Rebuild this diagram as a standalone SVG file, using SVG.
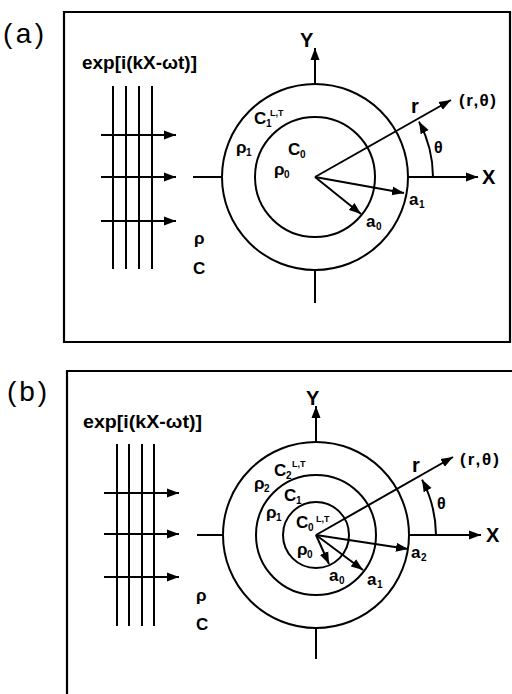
<svg xmlns="http://www.w3.org/2000/svg" width="512" height="694" viewBox="0 0 512 694">
<style>
.ln{stroke:#000;stroke-width:2;fill:none}
.fr{stroke:#000;stroke-width:2.2;fill:none}
.ar{stroke:#000;stroke-width:2;fill:none;marker-end:url(#ah)}
.t{font-family:"Liberation Sans",Arial,Helvetica,sans-serif;font-weight:bold;fill:#000}
.pl{font-family:"Liberation Sans",Arial,Helvetica,sans-serif;font-size:28px;fill:#000}
.ex{font-size:18px}
.lb{font-size:17px}
.ax{font-size:20px}
.sb{font-size:10px}
.sp{font-size:9px}
</style>
<defs>
<marker id="ah" markerUnits="userSpaceOnUse" markerWidth="14" markerHeight="10" refX="12" refY="5" orient="auto">
<path d="M0,0.5 L12,5 L0,9.5 z" fill="#000"/>
</marker>
</defs>
<rect width="512" height="694" fill="#fff"/>

<!-- Panel (a) -->
<g id="panel-a">
<text class="pl" x="3" y="43" textLength="41">(a)</text>
<path class="fr" d="M64,12 H510 V342 H64 Z"/>
<g id="a-wave">
<text class="t ex" x="82" y="69" textLength="115" lengthAdjust="spacingAndGlyphs">exp[i(kX-ωt)]</text>
<path class="ln" d="M113,86 V269 M126,86 V269 M139,86 V269 M152,86 V269"/>
<line class="ar" x1="101" y1="135" x2="176" y2="135"/>
<line class="ar" x1="101" y1="177" x2="176" y2="177"/>
<line class="ar" x1="101" y1="221" x2="176" y2="221"/>
<text class="t lb" x="194" y="244">ρ</text>
<text class="t lb" x="193" y="274">C</text>
</g>
<g id="a-scatterer">
<circle class="ln" cx="315" cy="177" r="93"/>
<circle class="ln" cx="315" cy="177" r="60"/>
<text class="t lb" x="254" y="124">C<tspan class="sb" x="266" y="127">1</tspan><tspan class="sp" x="270" y="116">L,T</tspan></text>
<text class="t lb" x="236" y="153">ρ<tspan class="sb" x="246" y="156">1</tspan></text>
<text class="t lb" x="288" y="155">C<tspan class="sb" x="300" y="158">0</tspan></text>
<text class="t lb" x="274" y="175">ρ<tspan class="sb" x="284" y="178">0</tspan></text>
</g>
<g id="a-axes">
<line class="ar" x1="315" y1="85" x2="315" y2="48"/>
<line class="ln" x1="315" y1="269" x2="315" y2="303"/>
<line class="ln" x1="193" y1="177" x2="222" y2="177"/>
<line class="ar" x1="408" y1="177" x2="478" y2="177"/>
<text class="t ax" x="300" y="47">Y</text>
<text class="t ax" x="482" y="184">X</text>
</g>
<g id="a-connectors">
<line class="ar" x1="315" y1="177" x2="451" y2="100"/>
<line class="ar" x1="315" y1="177" x2="404" y2="193"/>
<line class="ar" x1="315" y1="177" x2="361" y2="214"/>
<path class="ar" d="M433,177 A118,118 0 0 0 419,121.6"/>
<text class="t ax" x="411" y="113">r</text>
<text class="t" style="font-size:17px" x="459" y="106" textLength="37">(r,θ)</text>
<text class="t" style="font-size:16px" x="434" y="153">θ</text>
<text class="t lb" x="409" y="205">a<tspan class="sb" x="419" y="208">1</tspan></text>
<text class="t lb" x="366" y="227">a<tspan class="sb" x="376" y="230">0</tspan></text>
</g>
</g>

<!-- Panel (b) -->
<g id="panel-b">
<text class="pl" x="7" y="401" textLength="40">(b)</text>
<path class="fr" d="M512,371 H67 V694"/>
<g id="b-wave">
<text class="t ex" x="83" y="428" textLength="119" lengthAdjust="spacingAndGlyphs">exp[i(kX-ωt)]</text>
<path class="ln" d="M117,444 V626 M129,444 V626 M142,444 V626 M154,444 V626"/>
<line class="ar" x1="104" y1="493" x2="179" y2="493"/>
<line class="ar" x1="104" y1="534" x2="179" y2="534"/>
<line class="ar" x1="104" y1="577" x2="179" y2="577"/>
<text class="t lb" x="196" y="601">ρ</text>
<text class="t lb" x="196" y="630">C</text>
</g>
<g id="b-scatterer">
<circle class="ln" cx="316" cy="535" r="93"/>
<circle class="ln" cx="316" cy="535" r="60"/>
<circle class="ln" cx="316" cy="535" r="33"/>
<text class="t lb" x="274" y="476">C<tspan class="sb" x="286" y="479">2</tspan><tspan class="sp" x="292" y="467">L,T</tspan></text>
<text class="t lb" x="254" y="489">ρ<tspan class="sb" x="264" y="492">2</tspan></text>
<text class="t lb" x="284" y="501">C<tspan class="sb" x="296" y="504">1</tspan></text>
<text class="t lb" x="266" y="518">ρ<tspan class="sb" x="276" y="521">1</tspan></text>
<text class="t lb" x="296" y="528">C<tspan class="sb" x="308" y="531">0</tspan><tspan class="sp" x="316" y="522">L,T</tspan></text>
<text class="t lb" x="297" y="555">ρ<tspan class="sb" x="307" y="558">0</tspan></text>
</g>
<g id="b-axes">
<line class="ar" x1="316" y1="443" x2="316" y2="406"/>
<line class="ln" x1="316" y1="627" x2="316" y2="659"/>
<line class="ln" x1="197" y1="535" x2="223" y2="535"/>
<line class="ar" x1="409" y1="535" x2="481" y2="535"/>
<text class="t ax" x="306" y="405">Y</text>
<text class="t ax" x="486" y="542">X</text>
</g>
<g id="b-connectors">
<line class="ar" x1="316" y1="535" x2="453" y2="457"/>
<line class="ar" x1="316" y1="535" x2="408" y2="549"/>
<line class="ar" x1="316" y1="535" x2="363" y2="570"/>
<line class="ar" x1="316" y1="535" x2="329" y2="564"/>
<path class="ar" d="M436,535 A120,120 0 0 0 422,479.6"/>
<text class="t ax" x="412" y="472">r</text>
<text class="t" style="font-size:17px" x="460" y="465" textLength="39">(r,θ)</text>
<text class="t" style="font-size:16px" x="437" y="509">θ</text>
<text class="t lb" x="411" y="558">a<tspan class="sb" x="421" y="561">2</tspan></text>
<text class="t lb" x="367" y="585">a<tspan class="sb" x="377" y="588">1</tspan></text>
<text class="t lb" x="329" y="581">a<tspan class="sb" x="339" y="584">0</tspan></text>
</g>
</g>
</svg>
